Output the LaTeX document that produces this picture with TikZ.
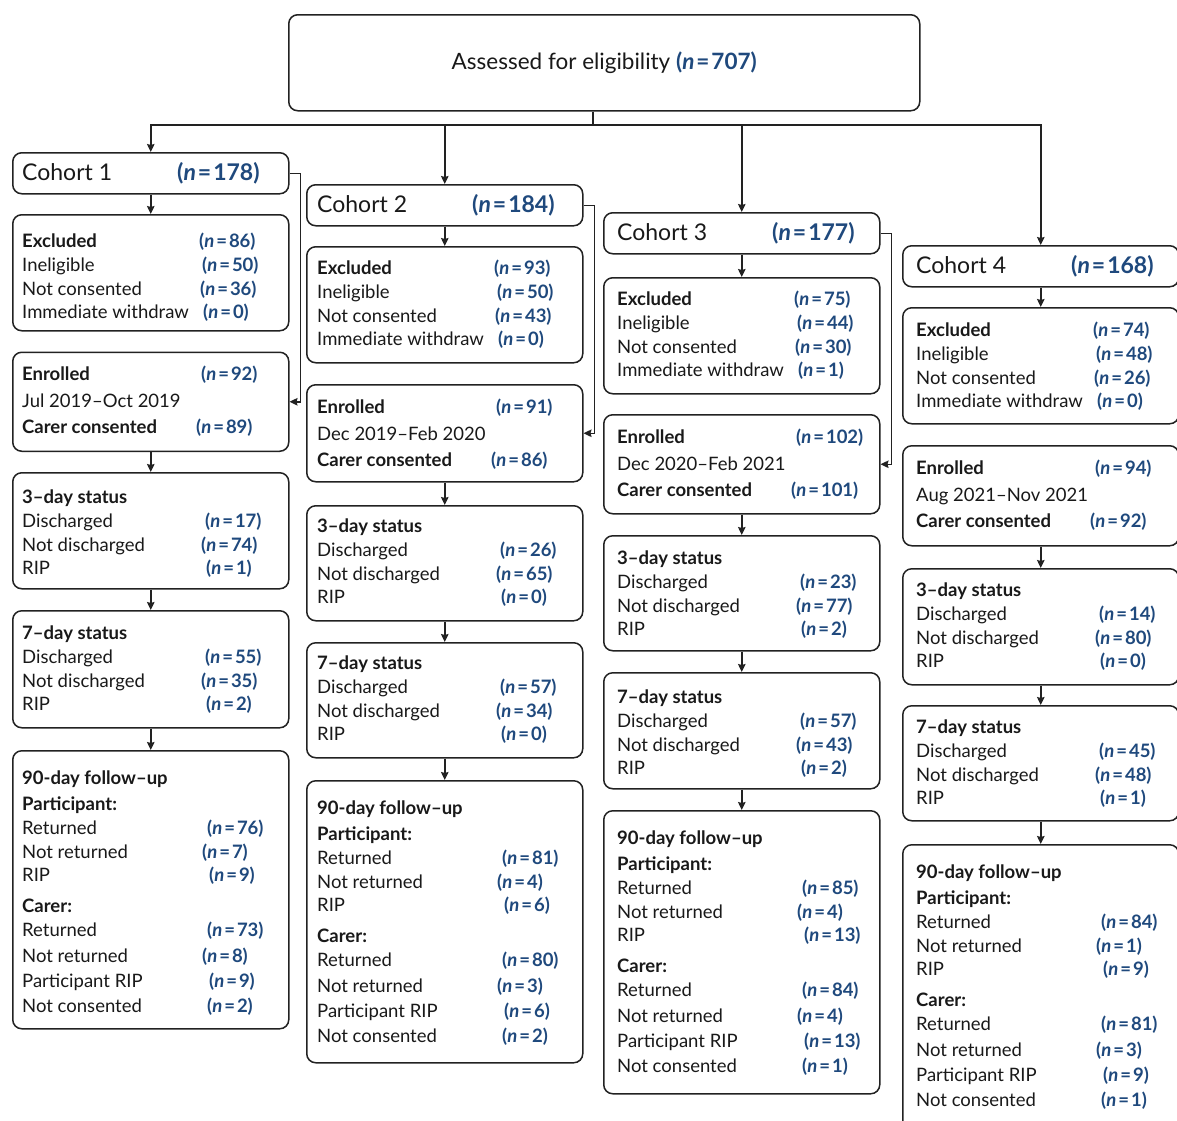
\documentclass[tikz,border=0pt]{standalone}
\usepackage{fontspec}
\setmainfont{Lato}
\usetikzlibrary{calc,arrows.meta}
\definecolor{nblue}{RGB}{31,73,125}
\definecolor{lc}{RGB}{34,34,34}
\newcommand\nv[1]{\textcolor{nblue}{\bfseries(\textit{n}\kern2pt=\kern2pt#1)}}
\newcounter{rw}
\def\lx{10}
\newcommand\trow[5]{\stepcounter{rw}\edef\rna{r\arabic{rw}a}\edef\rnb{r\arabic{rw}b}%
  \node[txt] (\rna) at ($(#1.north west)+(\lx,#2)$) {#3};%
  \if\relax\detokenize{#5}\relax\else
  \node[txt] (\rnb) at ($(#1.north west)+(\lx+#4,#2)$) {\nv{#5}};\fi}
\newcommand\bx[4]{\node[box, minimum height=#4, anchor=north west] (#1) at (#2,#3) {};}
\newcommand\cohort[5]{\bx{#1}{#2}{#3}{41}%
  \node[big] (#1l) at ($(#1.north west)+(\lx,28)$) {#4};%
  \node[big] (#1v) at ($(#1.north west)+(\lx+155,28)$) {\nv{#5}};}
\newcommand\exbox[8]{\bx{#1}{#2}{#3}{116}%
  \trow{#1}{29+#4}{\textbf{Excluded}}{177}{#5}%
  \trow{#1}{53+#4}{Ineligible}{180}{#6}%
  \trow{#1}{77+#4}{Not consented}{178}{#7}%
  \trow{#1}{100+#4}{Immediate withdraw}{181}{#8}}
\newcommand\enbox[7]{\bx{#1}{#2}{#3}{#4}%
  \trow{#1}{29}{\textbf{Enrolled}}{179}{#5}%
  \trow{#1}{56}{#6}{0}{}%
  \trow{#1}{82}{\textbf{Carer consented}}{174}{#7}}
\newcommand\stbox[9]{\bx{#1}{#2}{#3}{#4}%
  \trow{#1}{29+#9}{\textbf{#5}}{0}{}%
  \trow{#1}{53+#9}{Discharged}{183}{#6}%
  \trow{#1}{77+#9}{Not discharged}{179}{#7}%
  \trow{#1}{100+#9}{RIP}{184}{#8}}
\newcommand\fubox[7]{\bx{#1}{#2}{#3}{#4}%
  \trow{#1}{34}{\textbf{90-day follow–up}}{0}{}%
  \trow{#1}{60}{\textbf{Participant:}}{0}{}%
  \trow{#1}{84}{Returned}{185}{#5}%
  \trow{#1}{108}{Not returned}{180}{#6}%
  \trow{#1}{131}{RIP}{187}{#7}}
\newcommand\fucarer[5]{%
  \trow{#1}{162}{\textbf{Carer:}}{0}{}%
  \trow{#1}{186}{Returned}{185}{#2}%
  \trow{#1}{212}{Not returned}{180}{#3}%
  \trow{#1}{237}{Participant RIP}{187}{#4}%
  \trow{#1}{262}{Not consented}{185}{#5}}
\begin{document}
\begin{tikzpicture}[x=1pt,y=-1pt,
  box/.style={draw=lc, line width=1.5pt, rounded corners=9pt, minimum width=276, inner sep=0, fill=white},
  txt/.style={anchor=base west, inner sep=0, font=\fontsize{18.5}{22}\selectfont, text=black!90},
  big/.style={anchor=base west, inner sep=0, font=\fontsize{23}{27}\selectfont, text=black!90},
  ln/.style={draw=lc, line width=1.5pt},
  arr/.style={ln, -{Stealth[length=8pt,width=7.5pt,inset=1pt]}}]
\useasboundingbox (0,0) rectangle (1177,1120);
\clip (0,0) rectangle (1177,1120);
\fill[white] (0,0) rectangle (1177,1120);
% top
\node[box, minimum width=631, minimum height=96, anchor=north west] (top) at (288,14) {};
\node[inner sep=0, font=\fontsize{22.5}{26}\selectfont, text=black!90] (topt) at (top.center) {Assessed for eligibility \nv{707}};
% column 1
\def\lx{10}
\cohort{c1h}{12}{152}{Cohort 1}{178}
\exbox{c1e}{12}{214}{4}{86}{50}{36}{0}
\enbox{c1n}{12}{351.5}{99}{92}{Jul 2019–Oct 2019}{89}
\stbox{c1a}{12}{472}{116}{3–day status}{17}{74}{1}{2}
\stbox{c1b}{12}{610}{117}{7–day status}{55}{35}{2}{0}
\fubox{c1f}{12}{750}{278}{76}{7}{9}
\fucarer{c1f}{73}{8}{9}{2}
% column 2
\def\lx{11}
\cohort{c2h}{306}{184}{Cohort 2}{184}
\exbox{c2e}{306}{246}{-1}{93}{50}{43}{0}
\enbox{c2n}{306}{384}{97}{91}{Dec 2019–Feb 2020}{86}
\stbox{c2a}{306}{505}{115}{3–day status}{26}{65}{0}{-2}
\stbox{c2b}{306}{642}{115}{7–day status}{57}{34}{0}{-2}
\fubox{c2f}{306}{780}{282}{81}{4}{6}
\fucarer{c2f}{80}{3}{6}{2}
% column 3
\def\lx{14}
\cohort{c3h}{603}{212}{Cohort 3}{177}
\exbox{c3e}{603}{277}{-1}{75}{44}{30}{1}
\enbox{c3n}{603}{414}{99}{102}{Dec 2020–Feb 2021}{101}
\stbox{c3a}{603}{535}{115}{3–day status}{23}{77}{2}{0}
\stbox{c3b}{603}{672}{116}{7–day status}{57}{43}{2}{2}
\fubox{c3f}{603}{810}{283}{85}{4}{13}
\fucarer{c3f}{84}{4}{13}{1}
% column 4
\def\lx{14}
\cohort{c4h}{902}{245}{Cohort 4}{168}
\exbox{c4e}{902}{307}{0}{74}{48}{26}{0}
\enbox{c4n}{902}{445}{100}{94}{Aug 2021–Nov 2021}{92}
\stbox{c4a}{902}{568}{116}{3–day status}{14}{80}{0}{-1}
\stbox{c4b}{902}{705}{115}{7–day status}{45}{48}{1}{-1}
\fubox{c4f}{902}{844}{290}{84}{1}{9}
\fucarer{c4f}{81}{3}{9}{1}
% connectors from the top box
\coordinate (hub) at (593,125);
\draw[ln] (top.south -| hub) -- (hub);
\draw[arr] (hub) -| (c1h.north);
\draw[arr] (hub) -| (c4h.north);
\draw[arr] (hub -| c2h.north) -- (c2h.north);
\draw[arr] (hub -| c3h.north) -- (c3h.north);
% column chains
\foreach \c in {1,2,3,4}{
  \draw[arr] (c\c h.south) -- (c\c e.north);
  \draw[arr] (c\c n.south) -- (c\c a.north);
  \draw[arr] (c\c a.south) -- (c\c b.north);
  \draw[arr] (c\c b.south) -- (c\c f.north);
}
% side connectors cohort -> enrolled
\foreach \c in {1,2,3}{
  \draw[arr] (c\c h.east) -- ++(11,0) |- (c\c n.east);
}
\end{tikzpicture}
\end{document}
